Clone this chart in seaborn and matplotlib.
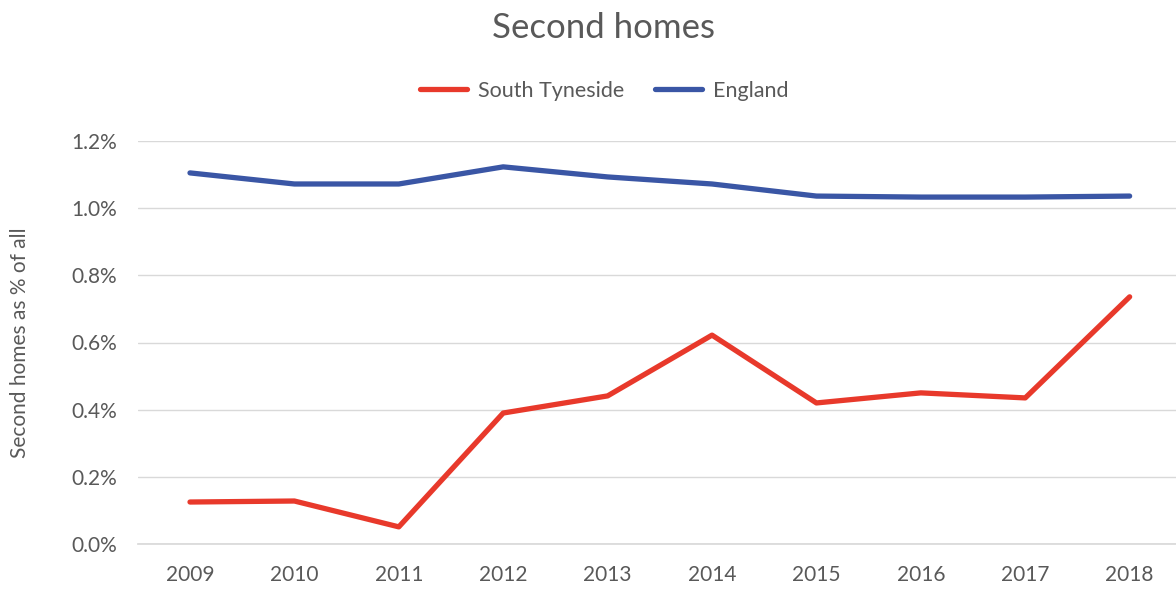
# Second homes chart
# South Tyneside vs England

import numpy as np
import pandas as pd
import seaborn as sns
import matplotlib.pyplot as plt

# DATA
years = ['2009', '2010', '2011', '2012', '2013', '2014', '2015', '2016', '2017', '2018']
south_tyneside = [0.125, 0.128, 0.051, 0.390, 0.441, 0.622, 0.420, 0.450, 0.435, 0.736]
england = [1.105, 1.072, 1.072, 1.123, 1.093, 1.072, 1.036, 1.033, 1.033, 1.036]
series_names = ['South Tyneside', 'England']

df = pd.DataFrame({
    'Year': years * 2,
    'Value': south_tyneside + england,
    'Area': [series_names[0]] * len(years) + [series_names[1]] * len(years),
})

sns.set_theme(style='white')
plt.rcParams['font.family'] = ['Lato', 'DejaVu Sans']
grey = '#595959'

fig = plt.figure(figsize=(11.76, 5.9), dpi=100)
ax = fig.add_axes([138 / 1176, 46 / 590, 1038 / 1176, 403 / 590])

sns.lineplot(data=df, x='Year', y='Value', hue='Area', sort=False,
             palette={'South Tyneside': '#e8392b', 'England': '#3a56a5'},
             linewidth=3.8, ax=ax)

ax.set_xlim(-0.498, 9.444)
ax.set_ylim(0, 1.2)
ax.set_yticks(np.arange(0, 1.21, 0.2))
ax.set_yticklabels([f'{v:.1f}%' for v in np.arange(0, 1.21, 0.2)])
ax.yaxis.grid(True, color='#d9d9d9', linewidth=1)
ax.set_axisbelow(True)
for s in ['top', 'right', 'left']:
    ax.spines[s].set_visible(False)
ax.spines['bottom'].set_color('#d9d9d9')
ax.tick_params(axis='both', colors=grey, labelsize=15, length=0)
ax.tick_params(axis='x', pad=15)
ax.tick_params(axis='y', pad=15)
ax.set_xlabel('')
ax.set_ylabel('Second homes as % of all', color=grey, fontsize=15, labelpad=30)

leg = ax.legend(loc='lower center', bbox_to_anchor=(0.449, 1.052), ncol=2,
                frameon=False, fontsize=15.5, handlelength=2.2, handletextpad=0.5,
                columnspacing=1.4)
for t in leg.get_texts():
    t.set_color(grey)

fig.text(0.513, 0.952, 'Second homes', ha='center', va='center', color=grey, fontsize=25)

plt.savefig('out.png', dpi=100)
